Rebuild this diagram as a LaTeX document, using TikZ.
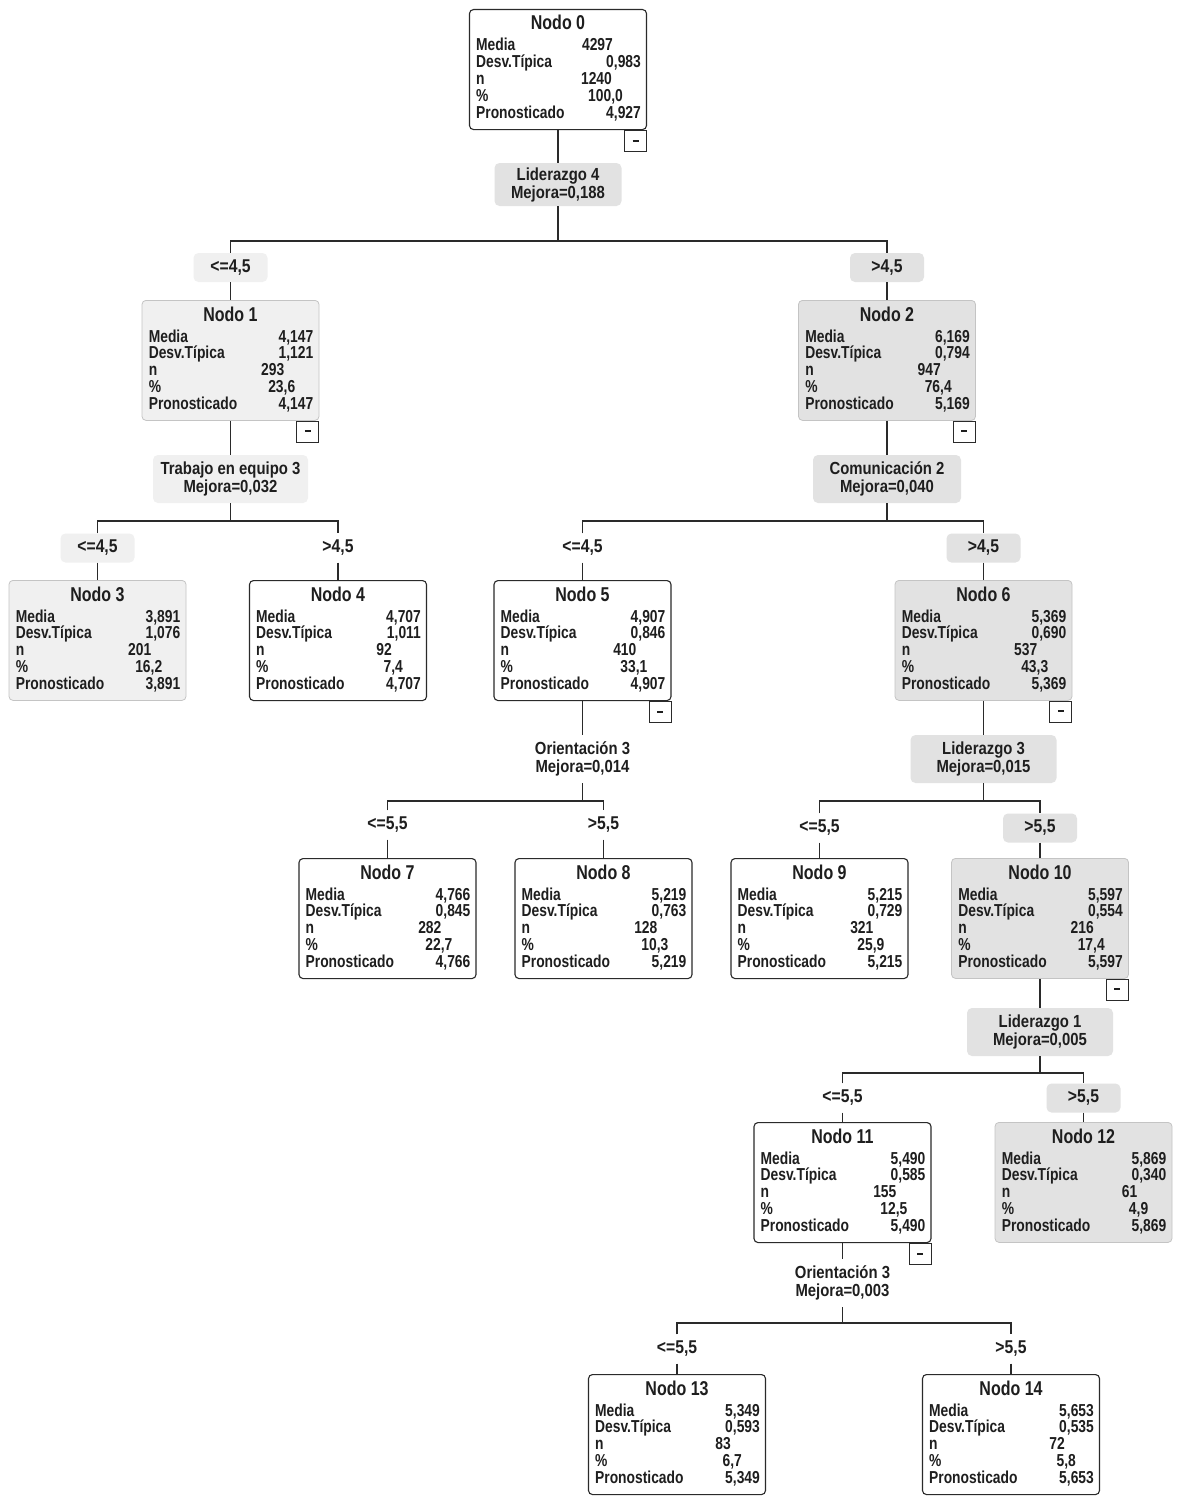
\documentclass[tikz,border=0pt]{standalone}
\usepackage{fontspec}
\setmainfont{Liberation Sans}[FakeStretch=0.85]
\newfontfamily\condfont{Liberation Sans}[FakeStretch=0.8]
\usetikzlibrary{calc}
\definecolor{txt}{HTML}{1E1E1E}
\definecolor{lightfill}{HTML}{F0F0F0}
\definecolor{darkfill}{HTML}{E2E2E2}
\definecolor{softline}{HTML}{C4C4C4}
\definecolor{wire}{HTML}{2A2A2A}
\newcommand\medoff{-6}
\newcommand\tnode[9]{%
  \node[nodebox,#4,anchor=north] (n#1) at (#2,#3) {};
  \node[titletext,anchor=base] at ($(n#1.north)+(0,21)$) {Nodo #1};
  \node[celltext,anchor=base west] at ($(n#1.north west)+(7,42)$) {Media};
  \node[celltext,anchor=base west] at ($(n#1.north west)+(7,58.75)$) {Desv.Típica};
  \node[celltext,anchor=base west] at ($(n#1.north west)+(7,75.5)$) {n};
  \node[celltext,anchor=base west] at ($(n#1.north west)+(7,92.25)$) {\%};
  \node[celltext,anchor=base west] at ($(n#1.north west)+(7,109)$) {Pronosticado};
  \node[celltext,anchor=base east] at ($(n#1.north east)+(\medoff,42)$) {#5};
  \node[celltext,anchor=base east] at ($(n#1.north east)+(-6,58.75)$) {#6};
  \node[celltext,anchor=base east] at ($(n#1.north east)+(-35,75.5)$) {#7};
  \node[celltext,anchor=base east] at ($(n#1.north east)+(-24,92.25)$) {#8};
  \node[celltext,anchor=base east] at ($(n#1.north east)+(-6,109)$) {#9};
}
\tikzset{
  nodebox/.style={rectangle, rounded corners=4pt, minimum width=177pt, minimum height=120pt, inner sep=0pt},
  whitebox/.style={draw=wire, fill=white, line width=1.1pt},
  lightbox/.style={draw=softline, fill=lightfill, line width=0.8pt},
  darkbox/.style={draw=softline, fill=darkfill, line width=0.8pt},
  celltext/.style={inner sep=0pt, font=\condfont\fontsize{17.3}{18}\selectfont\bfseries, text=txt},
  titletext/.style={inner sep=0pt, font=\condfont\fontsize{20}{21}\selectfont\bfseries, text=txt},
  splitbox/.style={rectangle, rounded corners=5pt, minimum height=48pt, inner sep=0pt, align=center, font=\fontsize{17.5}{18}\selectfont\bfseries, text=txt},
  labelbox/.style={rectangle, rounded corners=5pt, minimum width=74pt, minimum height=29pt, inner sep=0pt, font=\fontsize{18.5}{18}\selectfont\bfseries, text=txt},
  filldark/.style={fill=darkfill},
  filllight/.style={fill=lightfill},
  minusbox/.style={rectangle, draw=wire, fill=white, line width=1pt, minimum width=22pt, minimum height=21pt, inner sep=0pt, text=txt},
  wireline/.style={draw=wire, line width=1.4pt},
}
\begin{document}
\begin{tikzpicture}[x=1pt,y=-1pt]
\fill[white] (0,0) rectangle (1183,1504);
\useasboundingbox (0,0) rectangle (1183,1504);

% ---- tree nodes
\renewcommand\medoff{-34}
\tnode{0}{558}{9}{whitebox}{4297}{0,983}{1240}{100,0}{4,927}
\renewcommand\medoff{-6}
\tnode{1}{230.5}{300}{lightbox}{4,147}{1,121}{293}{23,6}{4,147}
\tnode{2}{887}{300}{darkbox}{6,169}{0,794}{947}{76,4}{5,169}
\tnode{3}{97.5}{580}{lightbox}{3,891}{1,076}{201}{16,2}{3,891}
\tnode{4}{338}{580}{whitebox}{4,707}{1,011}{92}{7,4}{4,707}
\tnode{5}{582.5}{580}{whitebox}{4,907}{0,846}{410}{33,1}{4,907}
\tnode{6}{983.5}{580}{darkbox}{5,369}{0,690}{537}{43,3}{5,369}
\tnode{7}{387.5}{858}{whitebox}{4,766}{0,845}{282}{22,7}{4,766}
\tnode{8}{603.5}{858}{whitebox}{5,219}{0,763}{128}{10,3}{5,219}
\tnode{9}{819.5}{858}{whitebox}{5,215}{0,729}{321}{25,9}{5,215}
\tnode{10}{1040}{858}{darkbox}{5,597}{0,554}{216}{17,4}{5,597}
\tnode{11}{842.5}{1122}{whitebox}{5,490}{0,585}{155}{12,5}{5,490}
\tnode{12}{1083.5}{1122}{darkbox}{5,869}{0,340}{61}{4,9}{5,869}
\tnode{13}{677}{1374}{whitebox}{5,349}{0,593}{83}{6,7}{5,349}
\tnode{14}{1011}{1374}{whitebox}{5,653}{0,535}{72}{5,8}{5,653}

% ---- collapse boxes
\foreach \k in {0,1,2,5,6,10,11}{
  \node[minusbox,anchor=north east] (m\k) at (n\k.south east) {\rule[1pt]{6pt}{1.8pt}};
}

% ---- split nodes
\node[splitbox,filldark,minimum width=127pt,minimum height=43pt] (s0) at (558,184.5) {Liderazgo 4\\Mejora=0,188};
\node[splitbox,filllight,minimum width=155pt] (s1) at (230.5,479) {Trabajo en equipo 3\\Mejora=0,032};
\node[splitbox,filldark,minimum width=148pt] (s2) at (887,479) {Comunicación 2\\Mejora=0,040};
\node[splitbox,minimum width=146pt] (s5) at (582.5,759) {Orientación 3\\Mejora=0,014};
\node[splitbox,filldark,minimum width=146pt] (s6) at (983.5,759) {Liderazgo 3\\Mejora=0,015};
\node[splitbox,filldark,minimum width=146pt] (s10) at (1040,1032) {Liderazgo 1\\Mejora=0,005};
\node[splitbox,minimum width=146pt] (s11) at (842.5,1283) {Orientación 3\\Mejora=0,003};

% ---- branch labels
\node[labelbox,filllight] (l1) at (230.5,267.5) {<=4,5};
\node[labelbox,filldark] (l2) at (887,267.5) {>4,5};
\node[labelbox,filllight] (l3) at (97.5,548) {<=4,5};
\node[labelbox] (l4) at (338,548) {>4,5};
\node[labelbox] (l5) at (582.5,548) {<=4,5};
\node[labelbox,filldark] (l6) at (983.5,548) {>4,5};
\node[labelbox] (l7) at (387.5,825) {<=5,5};
\node[labelbox] (l8) at (603.5,825) {>5,5};
\node[labelbox] (l9) at (819.5,828) {<=5,5};
\node[labelbox,filldark] (l10) at (1040,828) {>5,5};
\node[labelbox] (l11) at (842.5,1098) {<=5,5};
\node[labelbox,filldark] (l12) at (1083.5,1098) {>5,5};
\node[labelbox] (l13) at (677,1349) {<=5,5};
\node[labelbox] (l14) at (1011,1349) {>5,5};

% ---- junction points
\coordinate (h0) at (558,241);
\coordinate (h1) at (230.5,521);
\coordinate (h2) at (887,521);
\coordinate (h5) at (582.5,801);
\coordinate (h6) at (983.5,801);
\coordinate (h10) at (1040,1073);
\coordinate (h11) at (842.5,1323);

% ---- connectors
\draw[wireline] (n0.south) -- (s0.north);
\draw[wireline] (s0.south) -- (h0);
\draw[wireline] (l1.north) |- (h0) -| (l2.north);
\draw[wireline] (l1.south) -- (n1.north);
\draw[wireline] (l2.south) -- (n2.north);

\draw[wireline] (n1.south) -- (s1.north);
\draw[wireline] (s1.south) -- (h1);
\draw[wireline] (l3.north) |- (h1) -| (l4.north);
\draw[wireline] (l3.south) -- (n3.north);
\draw[wireline] (l4.south) -- (n4.north);

\draw[wireline] (n2.south) -- (s2.north);
\draw[wireline] (s2.south) -- (h2);
\draw[wireline] (l5.north) |- (h2) -| (l6.north);
\draw[wireline] (l5.south) -- (n5.north);
\draw[wireline] (l6.south) -- (n6.north);

\draw[wireline] (n5.south) -- (s5.north);
\draw[wireline] (s5.south) -- (h5);
\draw[wireline] (l7.north) |- (h5) -| (l8.north);
\draw[wireline] (l7.south) -- (n7.north);
\draw[wireline] (l8.south) -- (n8.north);

\draw[wireline] (n6.south) -- (s6.north);
\draw[wireline] (s6.south) -- (h6);
\draw[wireline] (l9.north) |- (h6) -| (l10.north);
\draw[wireline] (l9.south) -- (n9.north);
\draw[wireline] (l10.south) -- (n10.north);

\draw[wireline] (n10.south) -- (s10.north);
\draw[wireline] (s10.south) -- (h10);
\draw[wireline] (l11.north) |- (h10) -| (l12.north);
\draw[wireline] (l11.south) -- (n11.north);
\draw[wireline] (l12.south) -- (n12.north);

\draw[wireline] (n11.south) -- (s11.north);
\draw[wireline] (s11.south) -- (h11);
\draw[wireline] (l13.north) |- (h11) -| (l14.north);
\draw[wireline] (l13.south) -- (n13.north);
\draw[wireline] (l14.south) -- (n14.north);
\end{tikzpicture}
\end{document}
